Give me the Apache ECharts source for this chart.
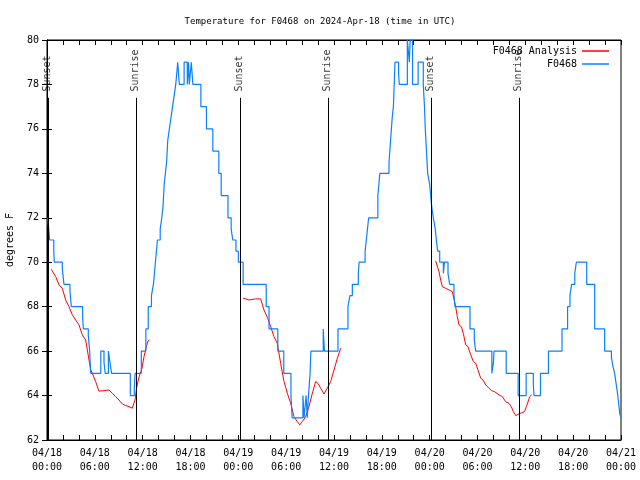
<!DOCTYPE html>
<html>
<head>
<meta charset="utf-8">
<script src="https://cdn.jsdelivr.net/npm/echarts@6/dist/echarts.min.js"></script>
<style>
html,body{margin:0;padding:0;background:#fff;}
#chart{width:640px;height:480px;}
</style>
</head>
<body>
<div id="chart"></div>
<script>
// Hours since 2024-04-18 00:00 UTC
const obsHours = [0.1,0.33,0.85,0.92,1.92,2.13,2.88,3.05,4.47,4.56,5.18,5.35,5.48,6.75,7.15,7.3,7.7,7.9,8.1,10.45,10.95,11.05,11.83,
  12.4,12.7,13.1,13.35,13.6,13.85,14.2,14.4,14.55,14.7,14.85,15.0,15.15,15.35,15.55,15.75,15.95,16.15,16.4,16.6,17.2,17.6,17.75,17.85,18.1,18.3,
  19.3,20.0,20.8,21.55,21.85,22.7,23.1,23.3,23.7,24.0,24.6,27.5,27.85,28.95,29.7,30.6,30.75,32.1,32.25,32.5,32.65,32.8,33.0,33.1,34.65,34.8,
  36.5,37.75,38.0,38.3,39.05,39.15,39.9,40.05,40.2,40.35,41.5,41.75,42.9,43.0,43.1,43.2,43.3,43.45,43.55,43.65,44.1,44.19,45.2,45.45,45.55,45.85,
  46.55,47.2,47.35,47.45,47.6,47.75,48.0,48.2,48.3,48.46,48.7,48.84,49.0,49.26,49.72,49.85,50.3,50.51,51.05,51.18,53.06,53.6,53.77,55.8,56.0,56.07,
  57.6,59.1,60.1,61.0,61.09,61.9,62.9,64.6,65.3,65.6,65.8,66.2,66.4,67.7,68.7,69.95,70.8,71.0,71.2,71.4,71.6,71.84,72];
const obsTemps = [72,71,70.5,70,69.7,69,68.7,68,67.5,67,66.7,66,65,66,65.5,65,66,65.5,65,64,64.3,65,66,
  67,68,68.5,69,70,71,71.5,72,72.5,73.5,74,74.5,75.5,76,76.5,77,77.5,78,79,78,79,78,79,78,79,78,
  77,76,75,74,73,72,71.5,71,70.5,70,69,68,67,66,65,64,63,64,63,64,63,64,65,66,67,66,
  67,68,68.5,69,69.5,70,70.5,71,71.5,72,73,74,74.5,75,75.5,76,76.5,77,78,79,78.5,78,80,79,80,78,
  79,78,77,76,75,74,73.5,72.7,72.4,72,71.5,71,70.5,70,69.5,70,69.5,69,68.5,68,67,66.5,66,65,65.5,66,
  65,64,65,64.5,64,65,66,67,68,68.5,69,69.5,70,69,67,66,65.7,65.3,65,64.5,64,63.2,63];

const anaHours1 = [0.54,0.79,1.09,1.51,1.92,2.34,2.76,3.18,3.6,4.01,4.43,4.85,5.06,5.27,5.48,5.69,6.1,6.52,7.15,7.78,8.2,8.61,9.03,9.45,9.87,10.29,10.7,10.91,11.04,11.2,11.41,11.62,11.87,12.17,12.46,12.67,12.83];
const anaTemps1 = [69.68,69.65,69.35,68.98,68.83,68.3,68.0,67.63,67.4,67.18,66.73,66.5,66.05,65.6,65.15,65.0,64.63,64.2,64.22,64.25,64.1,63.95,63.8,63.62,63.55,63.5,63.43,63.5,63.8,64.25,64.63,64.93,65.15,65.75,66.2,66.45,66.5];
const anaHours2 = [24.59,24.92,25.34,26.17,26.8,27.22,27.64,28.06,28.47,28.89,29.31,29.73,30.15,30.57,30.98,31.4,31.7,32.03,32.45,32.86,33.28,33.7,33.99,34.33,34.75,35.16,35.58,36.0,36.42,36.84];
const anaTemps2 = [68.38,68.35,68.3,68.35,68.35,67.85,67.52,67.1,66.65,66.35,65.45,64.63,64.1,63.65,63.05,62.83,62.68,62.83,63.05,63.5,64.1,64.63,64.55,64.33,64.07,64.33,64.63,65.15,65.68,66.13];
const anaHours3 = [48.75,48.96,49.17,49.38,49.59,50.0,50.43,50.84,51.05,51.26,51.47,51.68,51.97,52.22,52.52,52.81,53.15,53.48,53.77,54.06,54.4,54.69,55.03,55.44,55.78,56.16,56.7,57.12,57.54,57.95,58.24,58.49,58.79,59.08,59.5,59.9,60.13,60.34,60.55,60.8];
const anaTemps3 = [70.06,70.03,69.58,69.2,68.9,68.83,68.75,68.68,68.6,68.0,67.55,67.18,67.1,66.8,66.28,66.2,65.83,65.53,65.45,65.15,64.78,64.7,64.48,64.33,64.22,64.17,64.03,63.95,63.72,63.65,63.5,63.28,63.1,63.15,63.22,63.28,63.5,63.72,63.95,64.03];

const eventHours = [0.16, 11.2, 24.21, 35.29, 48.17, 59.25];
const eventNames = ['Sunset','Sunrise','Sunset','Sunrise','Sunset','Sunrise'];

const xTickLabels = ['04/18\n00:00','04/18\n06:00','04/18\n12:00','04/18\n18:00','04/19\n00:00','04/19\n06:00','04/19\n12:00',
  '04/19\n18:00','04/20\n00:00','04/20\n06:00','04/20\n12:00','04/20\n18:00','04/21\n00:00'];
const yTicks = [62,64,66,68,70,72,74,76,78,80];

const FONT = 'DejaVu Sans Mono';
const zip = (a, b) => a.map((v, i) => [v, b[i]]);
const obsData = zip(obsHours, obsTemps);
const anaData = [].concat(zip(anaHours1, anaTemps1), [[18, null]], zip(anaHours2, anaTemps2), [[42, null]], zip(anaHours3, anaTemps3));

const LINE_TOP = 77.4, LABEL_AT = 77.66;
const markLines = eventHours.map(h => [{coord: [h, 62]}, {coord: [h, LINE_TOP]}]);
const eventLabels = eventHours.map((h, i) => ({value: [h, LABEL_AT], name: eventNames[i]}));

const chart = echarts.init(document.getElementById('chart'), null, {renderer: 'canvas'});
const tickStyle = {show: true, inside: true, length: 5, lineStyle: {color: '#000', width: 1}};
chart.setOption({
  animation: false,
  backgroundColor: '#fff',
  textStyle: {fontFamily: FONT, fontSize: 10, color: '#000'},
  title: {text: 'Temperature for F0468 on 2024-Apr-18 (time in UTC)', left: 'center', top: 12,
    textStyle: {fontFamily: FONT, fontSize: 9, fontWeight: 'normal', color: '#000'}},
  legend: [
    {data: ['F0468 Analysis'], right: 26, top: 41, align: 'right', icon: 'rect', itemWidth: 27, itemHeight: 1.5,
      textStyle: {fontFamily: FONT, fontSize: 10, color: '#000'}},
    {data: ['F0468'], right: 26, top: 54, align: 'right', icon: 'rect', itemWidth: 27, itemHeight: 1.5,
      textStyle: {fontFamily: FONT, fontSize: 10, color: '#000'}}
  ],
  grid: {left: 47, right: 19, top: 40, bottom: 40, show: true, borderColor: '#000', borderWidth: 1,
    containLabel: false, outerBoundsMode: 'none'},
  xAxis: [
    {type: 'value', min: 0, max: 72, interval: 6, position: 'bottom',
      axisLine: {show: true, lineStyle: {color: '#000'}}, axisTick: tickStyle,
      minorTick: {show: true, splitNumber: 3, length: 5, lineStyle: {color: '#000'}},
      splitLine: {show: false},
      axisLabel: {margin: 6, lineHeight: 14, fontFamily: FONT, fontSize: 10, color: '#000',
        formatter: v => xTickLabels[Math.round(v / 6)]}},
    {type: 'value', min: 0, max: 72, interval: 6, position: 'top',
      axisLine: {show: true, lineStyle: {color: '#000'}}, axisTick: tickStyle,
      minorTick: {show: true, splitNumber: 3, length: 5, lineStyle: {color: '#000'}},
      splitLine: {show: false}, axisLabel: {show: false}}
  ],
  yAxis: [
    {type: 'value', min: yTicks[0], max: yTicks[yTicks.length - 1], interval: 2, position: 'left',
      name: 'degrees F', nameLocation: 'middle', nameRotate: 90, nameGap: 32,
      nameTextStyle: {fontFamily: FONT, fontSize: 10, color: '#000'},
      axisLine: {show: true, lineStyle: {color: '#000'}}, axisTick: tickStyle, splitLine: {show: false},
      axisLabel: {margin: 8, fontFamily: FONT, fontSize: 10, color: '#000'}},
    {type: 'value', min: yTicks[0], max: yTicks[yTicks.length - 1], interval: 2, position: 'right',
      axisLine: {show: true, lineStyle: {color: '#000'}}, axisTick: tickStyle, splitLine: {show: false},
      axisLabel: {show: false}}
  ],
  series: [
    {name: 'F0468 Analysis', type: 'line', data: anaData, showSymbol: false, symbol: 'none',
      connectNulls: false, color: '#ff0000', lineStyle: {color: '#ff0000', width: 1}, z: 3,
      markLine: {silent: true, symbol: 'none', label: {show: false},
        lineStyle: {color: '#000', width: 1, type: 'solid'}, data: markLines}},
    {name: 'F0468', type: 'line', step: 'end', data: obsData, showSymbol: false, symbol: 'none',
      color: '#0a80ff', lineStyle: {color: '#0a80ff', width: 1.2}, z: 4},
    {name: 'events', type: 'scatter', data: eventLabels, symbolSize: 1, itemStyle: {color: 'rgba(0,0,0,0)'},
      silent: true, z: 5,
      label: {show: true, position: [0, 0], rotate: 90, align: 'left', verticalAlign: 'middle',
        formatter: p => p.name, fontFamily: FONT, fontSize: 10, color: '#000'}}
  ]
});
</script>
</body>
</html>
